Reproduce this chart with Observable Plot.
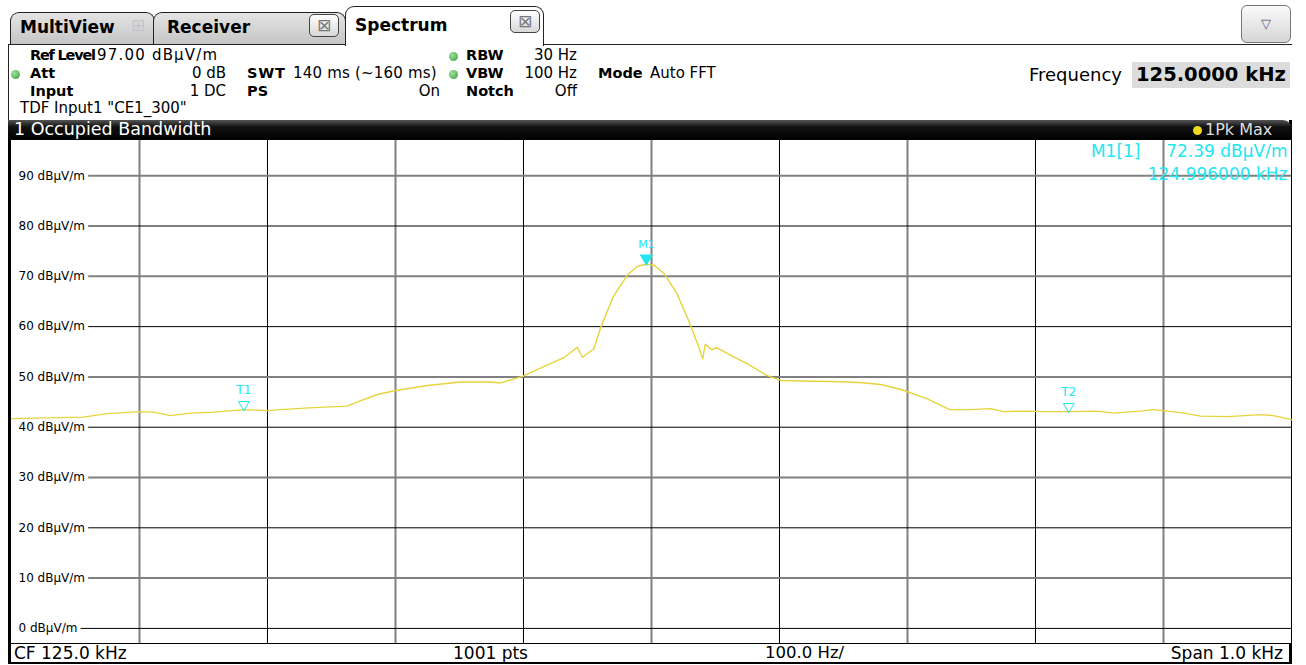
<!DOCTYPE html>
<html><head><meta charset="utf-8">
<script src="https://cdn.jsdelivr.net/npm/d3@7"></script>
<script src="https://cdn.jsdelivr.net/npm/@observablehq/plot@0.6"></script>
<style>
body{margin:0;width:1306px;height:665px;background:#fff;overflow:hidden;font-family:"DejaVu Sans",Verdana,sans-serif;position:relative;color:#000}
.a{position:absolute;white-space:nowrap;line-height:1}
.tab{position:absolute;border:1.5px solid #222;border-bottom:none;border-radius:9px 9px 0 0;box-sizing:border-box}
.tabg{background:linear-gradient(#e4e4e4,#c4c4c4)}
.tt{position:absolute;font-weight:bold;font-size:17px;line-height:1}
.cls{position:absolute;width:30px;height:23px;border:1.3px solid #444;border-radius:5px;box-sizing:border-box;background:linear-gradient(#fff,#d8d8d8);text-align:center;font-size:17px;line-height:21px;color:#777}
.h{position:absolute;font-size:15px;line-height:1;white-space:nowrap}
.b{font-weight:bold;font-size:14.5px}
.r{text-align:right}
.dot{position:absolute;width:9px;height:9px;border-radius:50%;background:radial-gradient(circle at 35% 35%,#9be39b,#3c9a3c)}
</style></head><body>
<script>
// ---- data ----
const spanStartKHz = 124.5, spanStopKHz = 125.5;
const refLevel = 97, rangeBottom = -3;
const yTicks = [0, 10, 20, 30, 40, 50, 60, 70, 80, 90];
const yTickLabels = ["0 dBµV/m","10 dBµV/m","20 dBµV/m","30 dBµV/m","40 dBµV/m","50 dBµV/m","60 dBµV/m","70 dBµV/m","80 dBµV/m","90 dBµV/m"];
const xGridKHz = [124.6, 124.7, 124.8, 124.9, 125.0, 125.1, 125.2, 125.3, 125.4];
// trace: frequency offset from 125 kHz (Hz) and level (dBµV/m)
const traceOffsetHz = [-500,-444,-425,-400,-389,-376,-360,-342,-318,-300,-290,-264,-238,-227,-214,-200,-175,-149,-126,-118,-101,-82,-68,-58,-54,-45,-40,-30,-19,-11,-4,2,10,20,29,36,40,42,47,51,62,75,90,101,116,140,163,179,195,215,233,250,265,275,293,306,327,348,361,382,392,403,416,429,450,476,486,500];
const traceLevel = [41.7,42.0,42.7,43.1,43.0,42.3,42.8,43.0,43.5,43.3,43.5,43.9,44.2,45.3,46.5,47.3,48.3,49.0,49.0,48.8,50.1,52.3,53.9,55.9,53.9,55.6,59.6,65.9,70.2,72.0,72.39,72.2,70.5,66.5,61.2,56.6,53.6,56.5,55.4,55.8,54.3,52.6,50.3,49.3,49.2,49.1,48.9,48.5,47.5,45.7,43.5,43.5,43.7,43.1,43.2,43.1,43.1,43.2,42.8,43.2,43.5,43.2,42.8,42.2,42.1,42.5,42.3,41.5];
const markerNames = ["M1","T1","T2"];
const markerKHz = [124.996, 124.6815, 125.326];
const markerLevel = [72.39, 43.5, 43.1];
const centerKHz = 125.0;
</script>
<!-- tabs -->
<div class="tab tabg" style="left:10px;top:12px;width:145px;height:33px"></div>
<div class="tt" style="left:20px;top:19px">MultiView</div>
<div class="a" style="left:131px;top:17px;font-size:17px;color:#c4c4cc">⊞</div>
<div class="tab tabg" style="left:153px;top:12px;width:193px;height:33px"></div>
<div class="tt" style="left:167px;top:19px">Receiver</div>
<div class="cls" style="left:309px;top:14px">⊠</div>
<div class="tab" style="left:345px;top:6px;width:199px;height:40px;background:#fff"></div>
<div class="tt" style="left:355px;top:17px">Spectrum</div>
<div class="cls" style="left:510px;top:10px">⊠</div>
<div class="a" style="left:8px;top:44px;width:338px;height:0;border-top:1.5px solid #222"></div>
<div class="a" style="left:543px;top:44px;width:749px;height:0;border-top:1.5px solid #222"></div>
<div class="a" style="left:1241px;top:5px;width:50px;height:38px;border:1px solid #777;border-radius:6px;box-sizing:border-box;background:linear-gradient(#fafafa,#d6d6d6);text-align:center;line-height:36px;font-size:13px;color:#557">▽</div>
<div class="a" style="left:8px;top:44px;width:0;height:76px;border-left:1.5px solid #222"></div>
<!-- header -->
<div class="h b" style="left:30px;top:48px;letter-spacing:-1.2px">Ref Level</div>
<div class="h" style="left:97px;top:48px;letter-spacing:1.2px">97.00 dBµV/m</div>
<div class="dot" style="left:11px;top:70px"></div>
<div class="h b" style="left:30px;top:66px">Att</div>
<div class="h r" style="left:150px;width:76px;top:66px">0 dB</div>
<div class="h b" style="left:30px;top:84px">Input</div>
<div class="h r" style="left:150px;width:76px;top:84px">1 DC</div>
<div class="h b" style="left:247px;top:66px;letter-spacing:0.8px">SWT</div>
<div class="h" style="left:293px;top:66px;letter-spacing:0.2px">140 ms (~160 ms)</div>
<div class="h b" style="left:247px;top:84px">PS</div>
<div class="h r" style="left:360px;width:80px;top:84px">On</div>
<div class="dot" style="left:449px;top:52px"></div>
<div class="h b" style="left:466px;top:48px">RBW</div>
<div class="h r" style="left:500px;width:77px;top:48px">30 Hz</div>
<div class="dot" style="left:449px;top:70px"></div>
<div class="h b" style="left:466px;top:66px">VBW</div>
<div class="h r" style="left:500px;width:77px;top:66px">100 Hz</div>
<div class="h b" style="left:466px;top:84px">Notch</div>
<div class="h r" style="left:500px;width:77px;top:84px">Off</div>
<div class="h b" style="left:598px;top:66px">Mode</div>
<div class="h" style="left:650px;top:66px">Auto FFT</div>
<div class="h" style="left:20px;top:101px;font-size:15px">TDF Input1 "CE1_300"</div>
<div class="a" style="left:1029px;top:66px;font-size:18px">Frequency</div>
<div class="a" style="left:1132px;top:62px;width:158px;height:26px;background:#dcdcdc"></div>
<div class="a" style="left:1136px;top:65px;font-size:19.5px;font-weight:bold">125.0000 kHz</div>
<!-- window -->
<div class="a" style="left:8px;top:120px;width:1284px;height:544px;border-left:3px solid #000;border-right:3px solid #000;border-bottom:2px solid #000;box-sizing:border-box"></div>
<div class="a" style="left:8px;top:120px;width:1284px;height:20px;background:linear-gradient(#555,#111 35%,#000);border-radius:0 9px 0 0"></div>
<div class="a" style="left:14px;top:121px;font-size:17.5px;color:#fff">1 Occupied Bandwidth</div>
<div class="a" style="left:1193px;top:126px;width:9px;height:9px;border-radius:50%;background:#f0d820"></div>
<div class="a" style="left:1205px;top:122px;font-size:16px;color:#ddd">1Pk Max</div>
<div id="plot" class="a" style="left:11px;top:140px;width:1280px;height:503px"></div>
<div class="a" style="left:8px;top:643px;width:1284px;height:0;border-top:1.3px solid #000"></div>
<div class="a" style="left:14px;top:645px;font-size:17px" id="cf"></div>
<div class="a" style="left:453px;top:645px;font-size:17px">1001 pts</div>
<div class="a" style="left:765px;top:645px;font-size:16.5px">100.0 Hz/</div>
<div class="a" style="left:1083px;width:200px;text-align:right;top:645px;font-size:17px">Span 1.0 kHz</div>
<script>
const trace = traceOffsetHz.map((o, i) => ({f: centerKHz + o / 1000, v: traceLevel[i]}));
const markers = markerNames.map((n, i) => ({name: n, f: markerKHz[i], v: markerLevel[i]}));
const cyan = "#22e6f0";
document.getElementById("cf").textContent = `CF ${centerKHz.toFixed(1)} kHz`;
const m1 = markers[0];
const chart = Plot.plot({
  width: 1280, height: 503, margin: 0,
  x: {domain: [spanStartKHz, spanStopKHz], axis: null},
  y: {domain: [rangeBottom, refLevel], axis: null},
  style: {background: "white", overflow: "visible", fontFamily: "DejaVu Sans, sans-serif"},
  marks: [
    Plot.ruleX(xGridKHz.filter((d, i) => i % 2 === 0), {x: d => d, stroke: "#808080", strokeWidth: 2}),
    Plot.ruleX(xGridKHz.filter((d, i) => i % 2 === 1), {x: d => d, stroke: "#000", strokeWidth: 1}),
    Plot.ruleY(yTicks.filter(d => (d / 10) % 2 === 1), {y: d => d, stroke: "#808080", strokeWidth: 2, insetLeft: 7}),
    Plot.ruleY(yTicks.filter(d => (d / 10) % 2 === 0), {y: d => d, stroke: "#000", strokeWidth: 1, insetLeft: 7}),
    Plot.text(yTicks, {y: d => d, text: (d, i) => yTickLabels[i], frameAnchor: "left", dx: 7, textAnchor: "start", fill: "#000", stroke: "white", strokeWidth: 8, fontSize: 12, ariaLabel: "ylabels"}),
    Plot.line(trace, {x: "f", y: "v", stroke: "#e6d43a", strokeWidth: 1.4}),
    Plot.dot([m1], {x: "f", y: "v", symbol: "triangle", rotate: 180, r: 5, fill: cyan, stroke: null, dy: -6}),
    Plot.dot(markers.slice(1), {x: "f", y: "v", symbol: "triangle", rotate: 180, r: 4, fill: "none", stroke: cyan, strokeWidth: 1, dy: -5}),
    Plot.text([m1], {x: "f", y: "v", text: "name", dy: -20, fill: cyan, fontSize: 11}),
    Plot.text(markers.slice(1), {x: "f", y: "v", text: "name", dy: -19, fill: cyan, fontSize: 12}),
    Plot.text([m1], {text: d => "M1[1]", frameAnchor: "top-right", dx: -151, dy: 4, fill: cyan, fontSize: 17, textAnchor: "end", lineAnchor: "top"}),
    Plot.text([m1], {text: d => `${d.v.toFixed(2)} dBµV/m`, frameAnchor: "top-right", dx: -4, dy: 4, fill: cyan, fontSize: 17, textAnchor: "end", lineAnchor: "top"}),
    Plot.text([m1], {text: d => `${d.f.toFixed(6)} kHz`, frameAnchor: "top-right", dx: -4, dy: 27, fill: cyan, fontSize: 17, textAnchor: "end", lineAnchor: "top"})
  ]
});
document.getElementById("plot").appendChild(chart);
d3.select(chart).selectAll('g[aria-label="ylabels"] text').style("letter-spacing", "0.5px");
</script>
</body></html>
